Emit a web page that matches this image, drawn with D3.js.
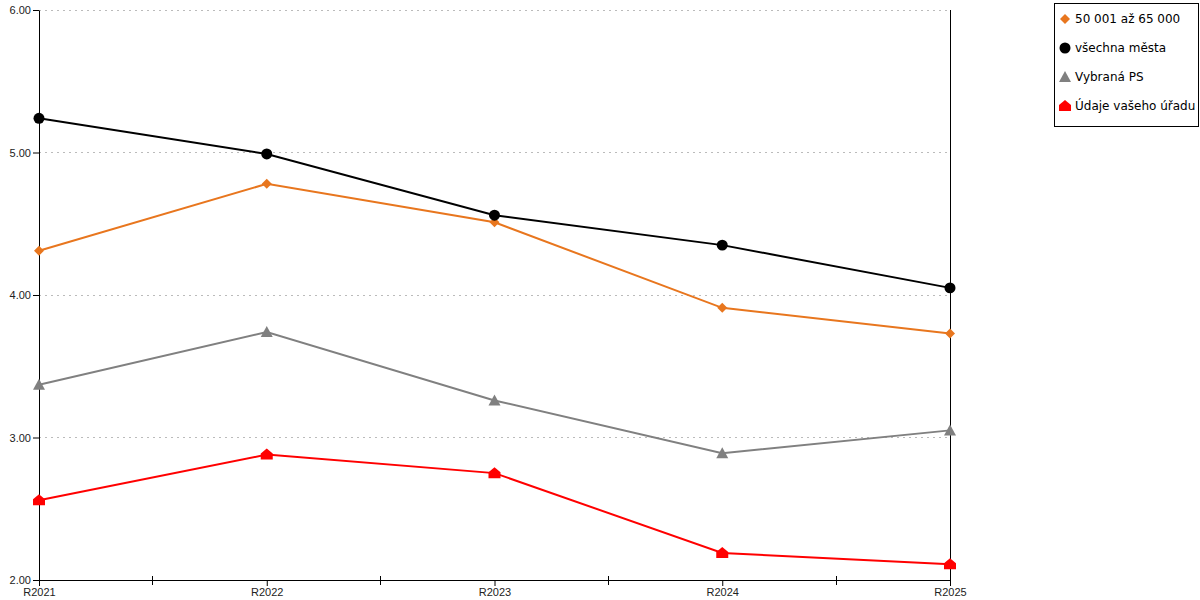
<!DOCTYPE html>
<html>
<head>
<meta charset="utf-8">
<script src="https://cdn.jsdelivr.net/npm/d3@7"></script>
<style>
  body { margin: 0; background: #fff; }
  svg { font-family: "DejaVu Sans", Verdana, sans-serif; }
</style>
</head>
<body>
<div id="chart"></div>
<script>
// data
const years = ['R2021', 'R2022', 'R2023', 'R2024', 'R2025'];
const seriesNames = ['50 001 až 65 000', 'všechna města', 'Vybraná PS', 'Údaje vašeho úřadu'];
const valsGroup = [4.31, 4.78, 4.51, 3.91, 3.73];
const valsAll = [5.24, 4.99, 4.56, 4.35, 4.05];
const valsPS = [3.37, 3.74, 3.26, 2.89, 3.05];
const valsOffice = [2.56, 2.88, 2.75, 2.19, 2.11];
const yTicks = [2, 3, 4, 5, 6];

const series = [
    {name: seriesNames[0], values: valsGroup, color: '#e8761e', shape: 'diamond'},
    {name: seriesNames[1], values: valsAll, color: '#000000', shape: 'circle'},
    {name: seriesNames[2], values: valsPS, color: '#808080', shape: 'triangle'},
    {name: seriesNames[3], values: valsOffice, color: '#ff0000', shape: 'house'}
];

const W = 1200, H = 600;
const margin = {top: 10, right: 250, bottom: 20, left: 39};
const width = W - margin.left - margin.right;
const height = H - margin.top - margin.bottom;

const svg = d3.select('#chart').append('svg')
    .attr('width', W).attr('height', H);
const g = svg.append('g')
    .attr('transform', `translate(${margin.left},${margin.top})`);

const x = d3.scalePoint().domain(years).range([0, width]);
const y = d3.scaleLinear().domain([2, 6]).range([height, 0]);

// 网格线
g.append('g')
    .selectAll('line')
    .data(yTicks.filter(d => d > 2))
    .enter().append('line')
    .attr('x1', 0).attr('x2', width)
    .attr('y1', d => y(d)).attr('y2', d => y(d))
    .attr('stroke', '#bbbbbb')
    .attr('stroke-dasharray', '2,4')
    .attr('shape-rendering', 'crispEdges');

// Y轴
const yAxis = g.append('g')
    .call(d3.axisLeft(y).tickValues(yTicks).tickFormat(d3.format('.2f')).tickSize(6).tickSizeOuter(0));
yAxis.select('.domain').attr('stroke', '#000');
yAxis.selectAll('text').style('font-size', '11px').attr('fill', '#222').attr('x', -8);

// 右侧竖线
g.append('line')
    .attr('x1', width).attr('x2', width)
    .attr('y1', 0).attr('y2', height)
    .attr('stroke', '#000')
    .attr('shape-rendering', 'crispEdges');

// X轴
const xAxis = g.append('g')
    .attr('transform', `translate(0,${height})`)
    .call(d3.axisBottom(x).tickSize(6).tickSizeOuter(0));
xAxis.select('.domain').attr('stroke', '#000');
xAxis.selectAll('text').style('font-size', '11px').attr('fill', '#222').attr('y', 8);

// minor ticks between categories
const mids = years.slice(1).map((d, i) => (x(years[i]) + x(d)) / 2);
g.append('g')
    .selectAll('line')
    .data(mids)
    .enter().append('line')
    .attr('x1', d => d).attr('x2', d => d)
    .attr('y1', height - 4).attr('y2', height + 5)
    .attr('stroke', '#000')
    .attr('shape-rendering', 'crispEdges');

// marker shapes
function markerPath(shape) {
    if (shape === 'diamond') return 'M0,-5L5,0L0,5L-5,0Z';
    if (shape === 'circle') return d3.symbol().type(d3.symbolCircle).size(95)();
    if (shape === 'triangle') return 'M0,-6L6,5L-6,5Z';
    if (shape === 'house') return 'M0,-6L6,-1L6,5L-6,5L-6,-1Z';
}

const line = d3.line()
    .x((d, i) => x(years[i]))
    .y(d => y(d));

series.forEach(s => {
    g.append('path')
        .datum(s.values)
        .attr('fill', 'none')
        .attr('stroke', s.color)
        .attr('stroke-width', 2)
        .attr('d', line);
});

series.forEach(s => {
    g.selectAll(null)
        .data(s.values)
        .enter().append('path')
        .attr('d', markerPath(s.shape))
        .attr('transform', (d, i) => `translate(${x(years[i])},${y(d)})`)
        .attr('fill', s.color);
});

// legend
const legend = svg.append('g').attr('transform', 'translate(1054,3)');
legend.append('rect')
    .attr('x', 0.5).attr('y', 0.5)
    .attr('width', 144).attr('height', 123)
    .attr('fill', '#fff').attr('stroke', '#000');
series.forEach((s, i) => {
    const row = legend.append('g').attr('transform', `translate(11,${16 + i * 29})`);
    row.append('path')
        .attr('d', markerPath(s.shape))
        .attr('fill', s.color);
    row.append('text')
        .attr('x', 10).attr('y', 4)
        .style('font-size', '12px')
        .attr('fill', '#000')
        .text(s.name);
});
</script>
</body>
</html>
